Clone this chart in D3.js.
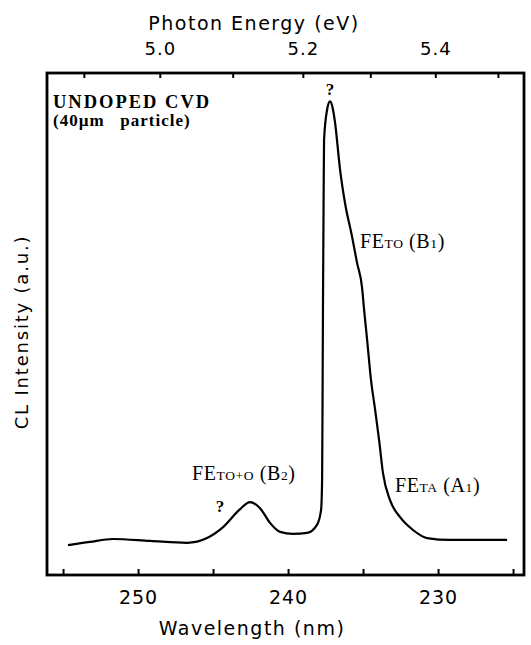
<!DOCTYPE html>
<html>
<head>
<meta charset="utf-8">
<script src="https://cdn.jsdelivr.net/npm/d3@7"></script>
<style>
  html, body { margin: 0; padding: 0; background: #fff; }
  svg { display: block; }
</style>
</head>
<body>
<div id="chart"></div>
<script>
// ---- data ----
const wavelengthNm = [254.67, 253.2, 251.67, 249.2, 246.73, 245.4, 244.33, 243.2, 242.53, 241.87,
  241.2, 240.53, 239.67, 238.73, 238.07, 237.8, 237.73, 237.7, 237.67, 237.63, 237.6, 237.4,
  237.2, 237.0, 236.87, 236.53, 236.2, 235.73, 235.4, 235.07, 234.93, 234.73, 234.47, 234.2, 233.93, 233.67,
  233.2, 232.53, 231.67, 230.73, 229.2, 227.2, 225.4];
const clIntensity = [0.063, 0.070, 0.076, 0.072, 0.068, 0.078, 0.101, 0.139, 0.154, 0.141,
  0.110, 0.091, 0.087, 0.089, 0.106, 0.137, 0.20, 0.37, 0.58, 0.79, 0.918, 0.982,
  1.0, 0.982, 0.956, 0.855, 0.785, 0.714, 0.659, 0.608, 0.56, 0.497, 0.412, 0.35, 0.285, 0.215,
  0.158, 0.122, 0.095, 0.078, 0.074, 0.074, 0.074];
const wavelengthTicks = [255, 250, 245, 240, 235, 230, 225];
const wavelengthLabels = [250, 240, 230];
const energyTicks = [4.9, 5.0, 5.1, 5.2, 5.3, 5.4, 5.5];
const energyLabels = [5.0, 5.2, 5.4];
const hcOverE = 1239.84;      // nm*eV
const energyOffsetNm = 0.55;  // calibration offset of the original top axis

(function () {
const W = 531, H = 645;
const mLeft = 47, mRight = 524, mTop = 73, mBottom = 575;

const svg = d3.select("#chart").append("svg").attr("width", W).attr("height", H);

const x = d3.scaleLinear().domain([256.07, 224.27]).range([mLeft, mRight]);
const y = d3.scaleLinear().domain([0, 1.06]).range([mBottom, mTop]);
const xE = e => x(hcOverE / e + energyOffsetNm);

const axisFont = "'DejaVu Sans', sans-serif";
const serif = "'Liberation Serif', 'DejaVu Serif', serif";

// bottom axis: ticks pointing inward
const bottomAxis = d3.axisBottom(x).tickValues(wavelengthTicks).tickSizeInner(-6).tickSizeOuter(0)
  .tickFormat(d => wavelengthLabels.includes(d) ? d : "");
const gb = svg.append("g").attr("transform", `translate(0,${mBottom})`).call(bottomAxis);
gb.select(".domain").remove();
gb.selectAll(".tick line").attr("stroke", "#000").attr("stroke-width", 2);
gb.selectAll(".tick text").attr("font-family", axisFont).attr("font-size", 19)
  .attr("fill", "#000").attr("y", 16).attr("dy", "0.71em").attr("letter-spacing", 1);

// top axis (photon energy), ticks pointing inward
const gt = svg.append("g");
gt.selectAll("line.et").data(energyTicks).join("line")
  .attr("x1", d => xE(d)).attr("x2", d => xE(d))
  .attr("y1", mTop).attr("y2", mTop + 5)
  .attr("stroke", "#000").attr("stroke-width", 2);
gt.selectAll("text.el").data(energyLabels).join("text")
  .attr("x", d => xE(d)).attr("y", 55)
  .attr("text-anchor", "middle").attr("font-family", axisFont).attr("font-size", 18)
  .attr("letter-spacing", 1)
  .text(d => d.toFixed(1));

// frame
svg.append("rect").attr("x", mLeft).attr("y", mTop)
  .attr("width", mRight - mLeft).attr("height", mBottom - mTop)
  .attr("fill", "none").attr("stroke", "#000").attr("stroke-width", 2.8);

// axis titles
svg.append("text").attr("x", 254).attr("y", 30).attr("text-anchor", "middle")
  .attr("font-family", axisFont).attr("font-size", 19).attr("letter-spacing", 1.5)
  .text("Photon Energy (eV)");
svg.append("text").attr("x", 252).attr("y", 635).attr("text-anchor", "middle")
  .attr("font-family", axisFont).attr("font-size", 19).attr("letter-spacing", 1.5)
  .text("Wavelength (nm)");
svg.append("text").attr("transform", "translate(28,332) rotate(-90)").attr("text-anchor", "middle")
  .attr("font-family", axisFont).attr("font-size", 18).attr("letter-spacing", 1.8)
  .text("CL Intensity (a.u.)");

// spectrum
const pts = wavelengthNm.map((w, i) => [x(w), y(clIntensity[i])]);
const line = d3.line().curve(d3.curveMonotoneX);
svg.append("path").attr("d", line(pts)).attr("fill", "none")
  .attr("stroke", "#000").attr("stroke-width", 2.2).attr("stroke-linejoin", "round");

// annotations
svg.append("text").attr("x", 53).attr("y", 108).attr("font-family", serif)
  .attr("font-weight", "bold").attr("font-size", 18.5).attr("letter-spacing", 2)
  .text("UNDOPED CVD");
svg.append("text").attr("x", 53).attr("y", 126).attr("font-family", serif)
  .attr("font-weight", "bold").attr("font-size", 17).attr("letter-spacing", 1)
  .style("white-space", "pre")
  .text("(40\u00B5m   particle)");

function label(xp, yp, parts) {
  const t = svg.append("text").attr("x", xp).attr("y", yp).attr("font-family", serif)
    .attr("font-size", 20).attr("letter-spacing", 0.6).style("white-space", "pre");
  parts.forEach(p => t.append("tspan").attr("font-size", p[1]).text(p[0]));
}
label(360, 248, [["FE", 20], ["TO", 13.5], [" (B", 20], ["1", 13.5], [")", 20]]);
label(192, 480, [["FE", 20], ["TO+O", 13.5], [" (B", 20], ["2", 13.5], [")", 20]]);
label(395, 492, [["FE", 20], ["TA", 13.5], [" (A", 20], ["1", 13.5], [")", 20]]);

svg.append("text").attr("x", x(237.2)).attr("y", 95).attr("text-anchor", "middle")
  .attr("font-family", serif).attr("font-weight", "bold").attr("font-size", 17).text("?");
svg.append("text").attr("x", 220).attr("y", 512).attr("text-anchor", "middle")
  .attr("font-family", serif).attr("font-weight", "bold").attr("font-size", 17).text("?");
})();
</script>
</body>
</html>
